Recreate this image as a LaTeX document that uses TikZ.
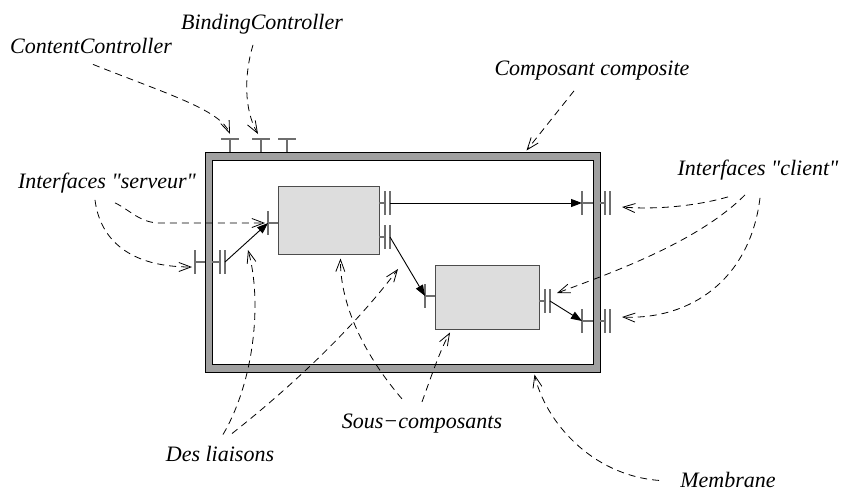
\documentclass[tikz,border=0pt]{standalone}
\usepackage{fontspec}
\setmainfont{Liberation Serif}[Ligatures=TeXOff]
\usetikzlibrary{arrows.meta}
\definecolor{membranegray}{HTML}{A0A0A0}
\definecolor{subgray}{HTML}{DDDDDD}
\definecolor{bargray}{HTML}{6E6E6E}

\tikzset{
  lbl/.style={font=\fontsize{22}{26}\selectfont\itshape, inner sep=0pt, anchor=base},
  note/.style={dash pattern=on 7pt off 5pt, line width=0.8pt, -{Straight Barb[length=12pt,width=9pt]}},
  bind/.style={line width=0.9pt, -{Triangle[length=11pt,width=8pt]}},
  membrane/.style={draw=black, fill=membranegray, line width=1pt, inner sep=0pt},
  inside/.style={draw=black, fill=white, line width=1pt, inner sep=0pt},
  sub/.style={draw=black!70, fill=subgray, line width=1pt, inner sep=0pt},
  itf/.style={draw=bargray, line width=1.3pt},
}

% interface serveur : barre puis tige
\newcommand{\servif}[4]{%
  \draw[itf] (#2,#3-12) -- (#2,#3+12);
  \draw[itf] (#2,#3) -- (#4,#3);
  \coordinate (#1) at (#2,#3);}
% interface client : tige puis deux barres
\newcommand{\clientif}[4]{%
  \draw[itf] (#2,#3) -- (#4,#3);
  \draw[itf] (#4,#3-12) -- (#4,#3+12) (#4+5,#3-12) -- (#4+5,#3+12);
  \coordinate (#1) at (#4+5,#3);}

\begin{document}
\begin{tikzpicture}[x=1pt, y=-1pt]
  \useasboundingbox (0,0) rectangle (841,491);

  % Membrane
  \node[membrane, minimum width=395pt, minimum height=220pt] (memb) at (402.5,262) {};
  \node[inside, minimum width=381pt, minimum height=204pt] (core) at (402.5,262) {};

  % Controleurs
  \foreach \x/\n in {230/1, 261/2, 287/3} {
    \draw[itf] (\x,152) -- (\x,139) coordinate (ctl\n);
    \draw[itf] (\x-9,139) -- (\x+9,139);
  }

  % Sous-composants
  \node[sub, minimum width=101pt, minimum height=68pt] (comp1) at (328.5,220) {};
  \node[sub, minimum width=104pt, minimum height=64pt] (comp2) at (487,297) {};

  % Interfaces
  \servif{s1}{268}{223}{278}
  \clientif{c1a}{379}{203}{385}
  \clientif{c1b}{379}{237}{385}
  \servif{s2}{425}{296}{435}
  \clientif{c2}{539}{301}{545}
  \servif{msv}{195}{262}{205}
  \clientif{mcl}{212}{262}{220}
  \servif{mr1}{582}{203}{593}
  \clientif{mo1}{600}{203}{605}
  \servif{mr2}{582}{321}{593}
  \clientif{mo2}{600}{321}{605}

  % Liaisons
  \draw[bind] (c1a) -- (mr1);
  \draw[bind] (mcl) -- (s1);
  \draw[bind] (c1b) -- (s2);
  \draw[bind] (c2) -- (mr2);

  % Textes
  \node[lbl] (bc) at (262,29) {BindingController};
  \node[lbl] (cc) at (91,53) {ContentController};
  \node[lbl] (cmp) at (592,75) {Composant composite};
  \node[lbl] (srv) at (107,188) {Interfaces "serveur"};
  \node[lbl] (cli) at (758,175) {Interfaces "client"};
  \node[lbl] (sc) at (422,428) {Sous−composants};
  \node[lbl] (li) at (220,461) {Des liaisons};
  \node[lbl] (mb) at (728,487) {Membrane};

  % Fleches pointillees
  \draw[note] ([shift={(2pt,-11pt)}]cc.south) .. controls (170,95) and (220,110) .. ([yshift=5pt]ctl1);
  \draw[note] ([shift={(-9pt,-11pt)}]bc.south) .. controls (244,75) and (244,110) .. ([shift={(-3pt,5pt)}]ctl2);
  \draw[note] ([shift={(-18pt,-11pt)}]cmp.south) -- ([shift={(124pt,1pt)}]memb.north);
  \draw[note] ([shift={(8pt,-10pt)}]srv.south) .. controls (130,210) and (140,223) .. (160,223) -- ([xshift=-3pt]s1);
  \draw[note] ([shift={(-12pt,-7pt)}]srv.south) .. controls (100,240) and (130,267) .. ([shift={(-3pt,-5pt)}]msv);
  \draw[note] ([shift={(-30pt,-17pt)}]cli.south) .. controls (700,205) and (660,210) .. ([shift={(12pt,-4pt)}]mo1);
  \draw[note] ([shift={(-13pt,-15pt)}]cli.south) .. controls (700,240) and (620,270) .. ([shift={(7pt,8pt)}]c2);
  \draw[note] ([shift={(2pt,-18pt)}]cli.south) .. controls (750,280) and (690,320) .. ([shift={(12pt,4pt)}]mo2);
  \draw[note] ([shift={(-20pt,34pt)}]sc.south) .. controls (360,350) and (340,300) .. ([shift={(12pt,-4pt)}]comp1.south);
  \draw[note] ([shift={(0pt,31pt)}]sc.south) .. controls (430,380) and (440,350) .. ([shift={(-37pt,-3pt)}]comp2.south);
  \draw[note] ([shift={(3pt,11pt)}]li.north) .. controls (255,380) and (262,300) .. (248,250);
  \draw[note] ([shift={(12pt,12pt)}]li.north) .. controls (300,380) and (360,320) .. (398,269);
  \draw[note] ([shift={(-69pt,7pt)}]mb.south) .. controls (590,475) and (545,420) .. ([shift={(132pt,-2pt)}]memb.south);
\end{tikzpicture}
\end{document}
